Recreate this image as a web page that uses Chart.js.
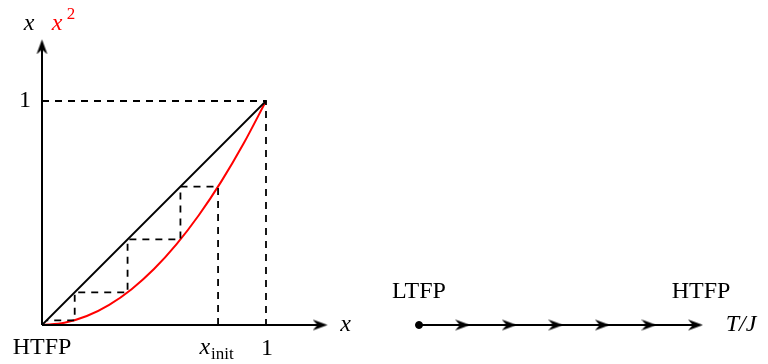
<!DOCTYPE html>
<html>
<head>
<meta charset="utf-8">
<script src="https://cdn.jsdelivr.net/npm/chart.js@4"></script>
<style>
  html, body { margin: 0; padding: 0; background: #fff; }
  #wrap { width: 768px; height: 364px; }
</style>
</head>
<body>
<div id="wrap"><canvas id="map" width="768" height="364"></canvas></div>
<script>
// --- data ---
const curveX = [0, 0.1, 0.2, 0.3, 0.4, 0.5, 0.6, 0.7, 0.8, 0.9, 1];
const curveY = [0, 0.01, 0.04, 0.09, 0.16, 0.25, 0.36, 0.49, 0.64, 0.81, 1];
const diagX = [0, 1];
const diagY = [0, 1];
const xInit = 0.786;
const iterates = [0.786, 0.618, 0.382, 0.146, 0.021];   // x, x^2, x^4, ...
const axisMax = 1.275;
const flowArrows = [0.18, 0.344, 0.508, 0.672, 0.836, 1.0];   // T/J positions of arrowheads
const flowEnd = 1.0;
const xTicks = ['x_init', '1'];

const FONT = '"Liberation Serif", "DejaVu Serif", serif';

// stealth-style arrow head, tip sits at the image centre
function makeArrow(len, half) {
    const c = document.createElement('canvas');
    c.width = len * 2;
    c.height = half * 2 + 2;
    const g = c.getContext('2d');
    const mid = c.height / 2;
    g.fillStyle = '#000';
    g.beginPath();
    g.moveTo(len, mid);
    g.lineTo(0, mid - half);
    g.lineTo(len * 0.32, mid);
    g.lineTo(0, mid + half);
    g.closePath();
    g.fill();
    return c;
}
const arrowImg = makeArrow(15, 5.5);

// cobweb staircase from the iterates
const cobweb = [{ x: iterates[0], y: 0 }];
for (let i = 0; i < iterates.length - 1; i++) {
    cobweb.push({ x: iterates[i], y: iterates[i + 1] });
    cobweb.push({ x: iterates[i + 1], y: iterates[i + 1] });
}

const lineDs = (data, color, width, dash, xAxisID) => ({
    type: 'line',
    data: data,
    borderColor: color,
    borderWidth: width,
    borderDash: dash || [],
    pointRadius: 0,
    fill: false,
    xAxisID: xAxisID || 'x',
    order: 2
});

const labelsPlugin = {
    id: 'labels',
    afterDraw(chart) {
        const { ctx } = chart;
        const sx = chart.scales.x, sy = chart.scales.y, st = chart.scales.xT;
        const px = v => sx.getPixelForValue(v);
        const py = v => sy.getPixelForValue(v);
        const pt = v => st.getPixelForValue(v);
        ctx.save();
        ctx.fillStyle = '#000';
        ctx.textAlign = 'center';
        ctx.textBaseline = 'middle';

        ctx.font = '24px ' + FONT;
        ctx.fillText('1', px(0) - 17, py(1));
        ctx.fillText(xTicks[1], px(1) + 1, py(0) + 24);
        ctx.fillText('HTFP', px(0), py(0) + 23);
        ctx.fillText('LTFP', pt(0), py(0) - 33);
        ctx.fillText('HTFP', pt(flowEnd) - 2, py(0) - 33);

        // x_init tick label
        ctx.font = 'italic 24px ' + FONT;
        ctx.textAlign = 'right';
        ctx.fillText('x', px(xInit) - 8, py(0) + 23);
        ctx.textAlign = 'left';
        ctx.font = '17px ' + FONT;
        ctx.fillText('init', px(xInit) - 7, py(0) + 30);

        // axis titles
        ctx.textAlign = 'center';
        ctx.font = 'italic 24px ' + FONT;
        ctx.fillText('x', px(axisMax) + 18, py(0));
        ctx.fillText('x', px(0) - 13, py(axisMax) - 16);
        ctx.fillStyle = '#ff0000';
        ctx.fillText('x', px(0) + 15, py(axisMax) - 16);
        ctx.font = '17px ' + FONT;
        ctx.fillText('2', px(0) + 29, py(axisMax) - 25);
        ctx.fillStyle = '#000';
        ctx.font = 'italic 24px ' + FONT;
        ctx.fillText('T/J', pt(flowEnd) + 38, py(0));
        ctx.restore();
    }
};

const chart = new Chart(document.getElementById('map'), {
    type: 'scatter',
    data: {
        datasets: [
            // axes
            lineDs([{ x: 0, y: 0 }, { x: 0, y: axisMax - 0.03 }], '#000', 2),
            lineDs([{ x: 0, y: 0 }, { x: axisMax - 0.03, y: 0 }], '#000', 2),
            // guide lines to (1,1)
            lineDs([{ x: 0, y: 1 }, { x: 1, y: 1 }, { x: 1, y: 0 }], '#000', 1.8, [7, 6]),
            // cobweb
            lineDs(cobweb, '#000', 1.8, [7, 6]),
            // y = x
            lineDs(diagX.map((v, i) => ({ x: v, y: diagY[i] })), '#000', 1.8),
            // y = x^2
            Object.assign(lineDs(curveX.map((v, i) => ({ x: v, y: curveY[i] })), '#ff0000', 2), {
                cubicInterpolationMode: 'monotone'
            }),
            // axis arrow heads
            {
                data: [{ x: 0, y: axisMax }, { x: axisMax, y: 0 }],
                pointStyle: arrowImg,
                pointRadius: 5,
                rotation: [-90, 0],
                showLine: false,
                order: 1
            },
            // flow line T/J
            lineDs([{ x: 0, y: 0 }, { x: flowEnd - 0.03, y: 0 }], '#000', 2, [], 'xT'),
            {
                data: flowArrows.map(v => ({ x: v, y: 0 })),
                xAxisID: 'xT',
                pointStyle: arrowImg,
                pointRadius: 5,
                showLine: false,
                order: 1
            },
            {
                data: [{ x: 0, y: 0 }],
                xAxisID: 'xT',
                pointStyle: 'circle',
                pointRadius: 3.5,
                backgroundColor: '#000',
                borderColor: '#000',
                showLine: false,
                order: 1
            }
        ]
    },
    options: {
        responsive: false,
        animation: false,
        devicePixelRatio: 1,
        layout: { padding: 0, autoPadding: false },
        plugins: { legend: { display: false }, tooltip: { enabled: false } },
        events: [],
        scales: {
            x: { type: 'linear', display: false, min: -42 / 224, max: (768 - 42) / 224 },
            xT: { type: 'linear', display: false, min: -419 / 284, max: (768 - 419) / 284 },
            y: { type: 'linear', display: false, min: -(364 - 325) / 224, max: 325 / 224 }
        }
    },
    plugins: [labelsPlugin]
});
</script>
</body>
</html>
